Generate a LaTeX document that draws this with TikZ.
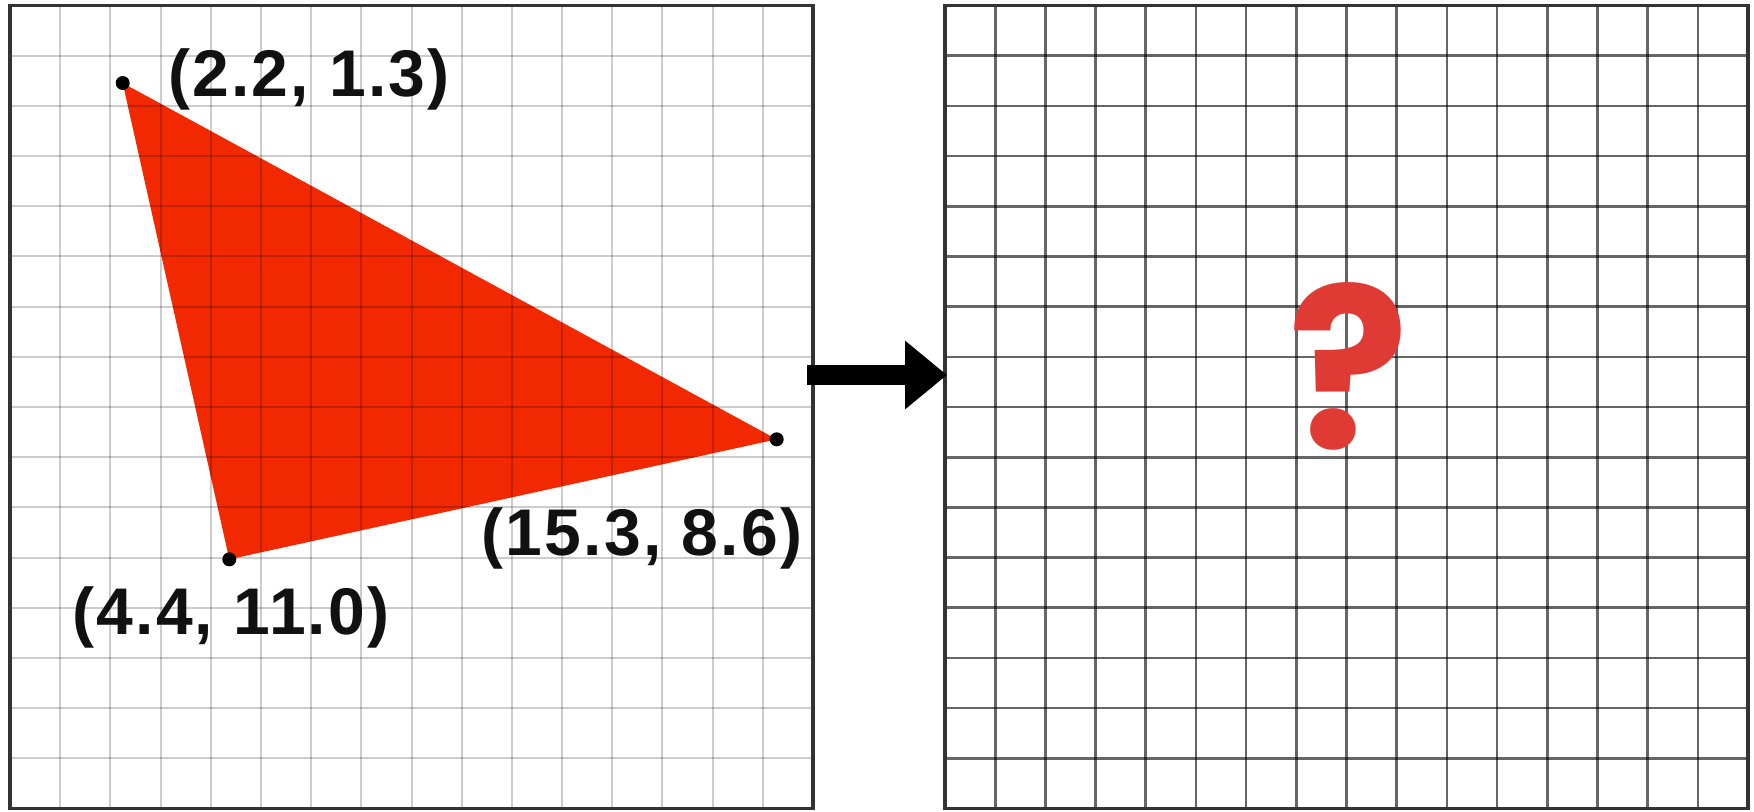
\documentclass[tikz,border=0pt]{standalone}
\usepackage{fontspec}
\newfontfamily\labfont{Liberation Sans}[LetterSpace=3.3]
\newfontfamily\qfont{Poppins}
\usetikzlibrary{arrows.meta}
\definecolor{trired}{RGB}{242,40,0}
\definecolor{qred}{RGB}{224,58,52}
\definecolor{ink}{RGB}{17,17,17}
\begin{document}
\begin{tikzpicture}[x=0.5pt,y=-0.5pt,
  lgrid/.style={line width=1pt, black, opacity=0.2},
  dgrid/.style={line width=1.3pt, black, opacity=0.6},
  frame/.style={line width=1.6pt, black!80},
  vdot/.style={fill=black},
  lab/.style={inner sep=0pt, text=ink, font=\labfont\bfseries\fontsize{33}{40}\selectfont},
  qmark/.style={inner sep=0pt, text=qred, font=\qfont\bfseries\fontsize{112}{120}\selectfont},
  bigarrow/.style={line width=10pt, black, -{Triangle[width=33pt,length=21pt]}}]
\useasboundingbox (0,0) rectangle (1754,811);
\fill[white] (0,0) rectangle (1754,811);
% triangle
\coordinate (A) at (122.7,83);
\coordinate (B) at (776.7,439.3);
\coordinate (C) at (229.3,559.3);
\fill[trired] (A) -- (B) -- (C) -- cycle;
% left grid
\foreach \i in {1,...,15} {
  \draw[lgrid] ({10+\i*50.1875},5.5) -- ({10+\i*50.1875},808.5);
  \draw[lgrid] (10,{5.5+\i*50.1875}) -- (813,{5.5+\i*50.1875});
}
\draw[frame] (10,5.5) rectangle (813,808.5);
% right grid
\foreach \i in {1,...,15} {
  \draw[dgrid] ({945+\i*50.1875},5.5) -- ({945+\i*50.1875},808.5);
  \draw[dgrid] (945,{5.5+\i*50.1875}) -- (1748,{5.5+\i*50.1875});
}
\draw[frame] (945,5.5) rectangle (1748,808.5);
% vertices
\fill[vdot] (A) circle[radius=3.5pt];
\fill[vdot] (B) circle[radius=3.5pt];
\fill[vdot] (C) circle[radius=3.5pt];
% labels
\node[lab] (lA) at (309,79) {(2.2, 1.3)};
\node[lab] (lB) at (642,538) {(15.3, 8.6)};
\node[lab] (lC) at (231,617) {(4.4, 11.0)};
% arrow
\coordinate (a1) at (807,375);
\coordinate (a2) at (947,375);
\draw[bigarrow] (a1) -- (a2);
% question mark
\node[qmark] (q) at (1349,366) {?};
\end{tikzpicture}
\end{document}
